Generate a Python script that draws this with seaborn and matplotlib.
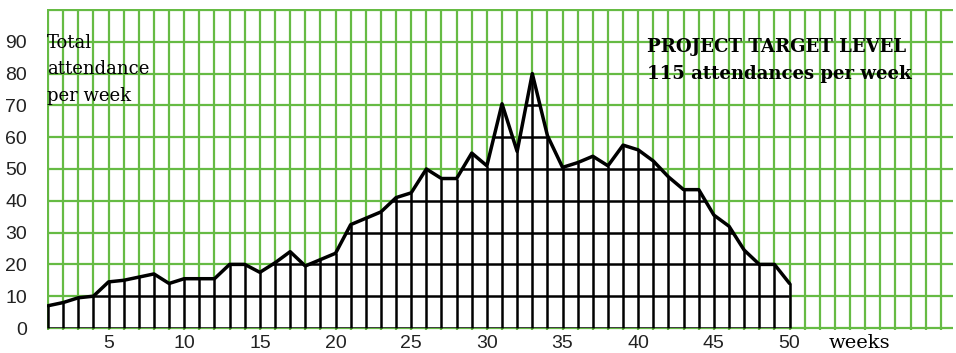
import matplotlib
matplotlib.use("Agg")
import matplotlib.pyplot as plt
from matplotlib.patches import Polygon
import seaborn as sns

# weekly attendance
weeks = list(range(1, 51))
attendance = [7, 8, 9.5, 10, 14.5, 15, 16, 17, 14, 15.5,
              15.5, 15.5, 20, 20, 17.5, 20.5, 24, 19.5, 21.5, 23.5,
              32.5, 34.5, 36.5, 41, 42.5, 50, 47, 47, 55, 51,
              70.5, 55.5, 80, 60.5, 50.5, 52, 54, 51, 57.5, 56,
              52.5, 47.5, 43.5, 43.5, 35.5, 32, 24.5, 20, 20, 14]
y_ticks = [0, 10, 20, 30, 40, 50, 60, 70, 80, 90]
x_ticks = [5, 10, 15, 20, 25, 30, 35, 40, 45, 50]

green = "#66bb44"

sns.set_style("white")
plt.rcParams["font.family"] = ["Liberation Sans", "DejaVu Sans"]

fig = plt.figure(figsize=(9.56, 3.53), dpi=100)
ax = fig.add_axes([46.5 / 956, 0.0654, (953 - 46.5) / 956, 0.9754 - 0.0654])

# green graph paper
ax.set_xlim(0.9, 60.8)
ax.set_ylim(-0.6, 100.4)
ax.set_xticks(x_ticks)
ax.set_xticks(range(1, 61), minor=True)
ax.set_yticks(y_ticks)
ax.set_yticks(range(0, 101, 10), minor=True)
ax.grid(True, which="both", color=green, linewidth=1.6)
ax.set_axisbelow(True)
for s in ax.spines.values():
    s.set_visible(False)
ax.tick_params(which="both", length=0, labelsize=14, labelcolor="#222222")
ax.tick_params(axis="y", pad=14)
ax.tick_params(axis="x", pad=4)

# white area under the curve with black grid inside
verts = [(weeks[0], 0)] + list(zip(weeks, attendance)) + [(weeks[-1], 0)]
area = Polygon(verts, closed=True, facecolor="white", edgecolor="none", zorder=1)
ax.add_patch(area)
h = ax.hlines(range(0, 90, 10), weeks[0], weeks[-1], color="black", linewidth=1.8, zorder=2)
h.set_clip_path(area)
ax.vlines(weeks, 0, attendance, color="black", linewidth=1.8, zorder=2)
sns.lineplot(x=weeks, y=attendance, color="black", linewidth=2.5, ax=ax, zorder=3)
ax.set_xlabel("")
ax.set_ylabel("")

ax.text(0.95, 92.5, "Total\nattendance\nper week", family="DejaVu Serif", fontsize=13,
        color="black", va="top", ha="left", linespacing=1.62, zorder=4)
ax.text(40.6, 91.2, "PROJECT TARGET LEVEL\n115 attendances per week", family="DejaVu Serif",
        fontsize=13.1, fontweight="bold", color="black", va="top", ha="left",
        linespacing=1.62, zorder=4)
ax.text(52.6, -4.8, "weeks", family="DejaVu Serif", fontsize=14, color="black",
        va="center", ha="left", clip_on=False)

fig.savefig("out.png", dpi=100)
